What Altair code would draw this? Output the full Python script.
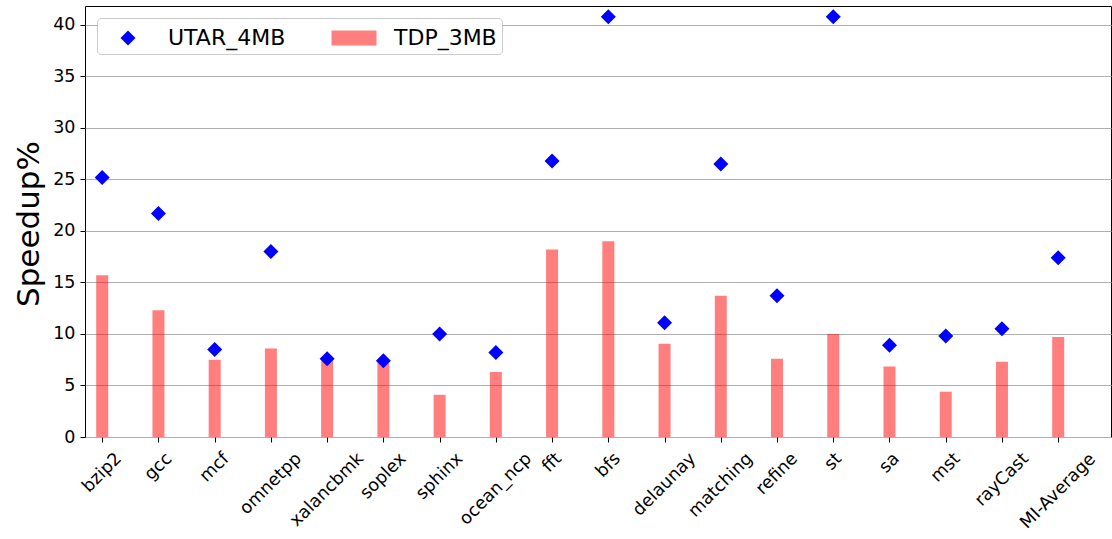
import altair as alt
import pandas as pd

# ---------------- data ----------------
benchmarks = ["bzip2", "gcc", "mcf", "omnetpp", "xalancbmk", "soplex", "sphinx",
              "ocean_ncp", "fft", "bfs", "delaunay", "matching", "refine", "st",
              "sa", "mst", "rayCast", "MI-Average"]
utar_4mb = [25.2, 21.7, 8.5, 18.0, 7.6, 7.4, 10.0, 8.2, 26.8, 40.8,
            11.1, 26.5, 13.7, 40.8, 8.9, 9.8, 10.5, 17.4]
tdp_3mb = [15.7, 12.3, 7.5, 8.6, 7.4, 7.2, 4.1, 6.3, 18.2, 19.0,
           9.05, 13.7, 7.6, 10.0, 6.85, 4.4, 7.3, 9.7]
series_names = ["UTAR_4MB", "TDP_3MB"]
y_ticks = [0, 5, 10, 15, 20, 25, 30, 35, 40]
y_title = "Speedup%"

# ---------------- layout / style ----------------
FONT = "DejaVu Sans"
W, H = 1026, 431
X_DOMAIN = [-0.217, 17.85]
Y_DOMAIN = [0, 41.84]
TICK_FS = 17.5

# DejaVu Sans advance widths (em) for label layout
CHAR_EM = {"b": .635, "z": .525, "i": .278, "p": .635, "2": .636, "g": .635, "c": .55,
           "m": .974, "f": .352, "o": .612, "n": .634, "e": .615, "t": .392, "x": .592,
           "a": .613, "l": .278, "k": .579, "s": .521, "h": .634, "_": .5, "d": .635,
           "y": .592, "r": .411, "u": .634, "M": .863, "I": .295, "-": .361, "A": .684,
           "v": .592, "C": .698}


def text_len(s, size):
    return sum(CHAR_EM.get(ch, 0.6) for ch in s) * size


n = len(benchmarks)
bar_df = pd.DataFrame({"idx": list(range(n)), "bench": benchmarks,
                       "value": tdp_3mb, "series": series_names[1]})
pt_df = pd.DataFrame({"idx": list(range(n)), "bench": benchmarks,
                      "value": utar_4mb, "series": series_names[0]})
lab_df = pd.DataFrame({"idx": list(range(n)), "bench": benchmarks,
                       "ly": [H + 12 + (text_len(b, TICK_FS) + 20) * 0.3536 for b in benchmarks]})

xscale = alt.Scale(domain=X_DOMAIN, nice=False, zero=False)
yscale = alt.Scale(domain=Y_DOMAIN, nice=False, zero=False)

DIAMOND = "M0,-0.5L0.5,0L0,0.5L-0.5,0Z"
RECT = "M-1.5,-0.5L1.5,-0.5L1.5,0.5L-1.5,0.5Z"

cscale = alt.Scale(domain=series_names, range=["#0000ff", "rgba(255,0,0,0.5)"])
sscale = alt.Scale(domain=series_names, range=[DIAMOND, RECT])


def make_legend():
    return alt.Legend(title=None, orient="none", legendX=12, legendY=12,
                      direction="horizontal", labelFont=FONT, labelFontSize=22,
                      labelColor="black", symbolSize=900, symbolStrokeWidth=0,
                      padding=5, fillColor="white", strokeColor="#cccccc",
                      cornerRadius=4, columnPadding=42, labelOffset=25,
                      symbolOffset=11, labelLimit=300)


def make_x_axis():
    return alt.Axis(values=list(range(n)), labels=False, tickSize=5, tickColor="black",
                    domain=False, grid=False, title=None)


def make_y_axis():
    return alt.Axis(values=y_ticks, grid=True, gridColor="#b0b0b0", gridWidth=1,
                    tickSize=5, tickColor="black", domain=False,
                    labelFont=FONT, labelFontSize=TICK_FS, labelColor="black", labelPadding=5,
                    title=y_title, titleFont=FONT, titleFontSize=31, titleFontWeight="normal",
                    titleColor="black", titleAngle=270, titleBaseline="alphabetic",
                    titleAlign="center", titleX=-47, titleY=217.5)


bars = alt.Chart(bar_df).mark_bar(size=12).encode(
    x=alt.X("idx:Q", scale=xscale, axis=make_x_axis()),
    y=alt.Y("value:Q", scale=yscale, axis=make_y_axis()),
    color=alt.Color("series:N", scale=cscale, legend=make_legend()),
)

points = alt.Chart(pt_df).mark_point(filled=True, size=900, opacity=1).encode(
    x=alt.X("idx:Q", scale=xscale, axis=make_x_axis()),
    y=alt.Y("value:Q", scale=yscale, axis=make_y_axis()),
    color=alt.Color("series:N", scale=cscale, legend=make_legend()),
    shape=alt.Shape("series:N", scale=sscale, legend=make_legend()),
)

labels = alt.Chart(lab_df).mark_text(angle=315, align="center", baseline="middle",
                                     font=FONT, fontSize=TICK_FS, color="black").encode(
    x=alt.X("idx:Q", scale=xscale, axis=make_x_axis()),
    y=alt.Y("ly:Q", scale=None, axis=None),
    text="bench:N",
)

chart = alt.layer(alt.layer(bars, points), labels).resolve_scale(
    y="independent"
).properties(
    width=W, height=H,
    autosize=alt.AutoSizeParams(type="none"),
    padding={"left": 85, "top": 6, "right": 1, "bottom": 539 - 6 - H},
    background="white",
).configure_view(stroke="black", strokeWidth=1)

chart.save("out.html", embed_options={"renderer": "svg", "actions": False})
